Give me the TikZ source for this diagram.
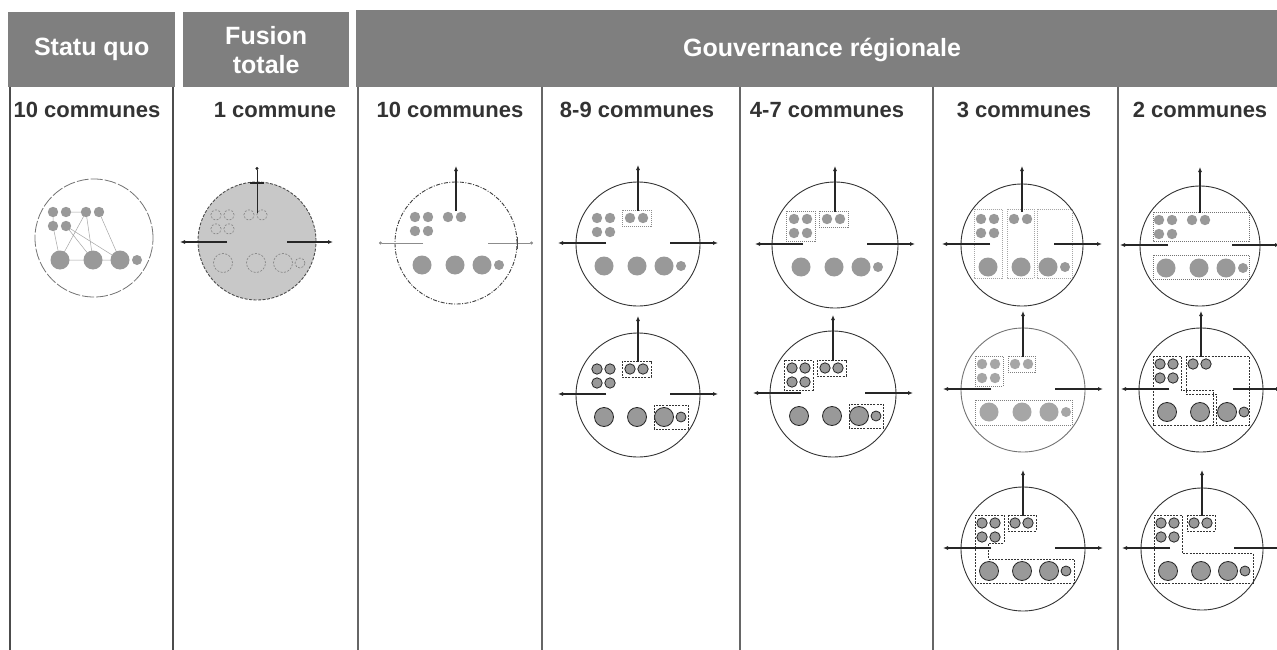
\documentclass[tikz,border=0pt]{standalone}
\usepackage{fontspec}
\setmainfont{Liberation Sans}
\usetikzlibrary{arrows.meta}
\definecolor{hdr}{HTML}{7F7F7F}
\definecolor{txt}{HTML}{333333}
\definecolor{sep}{HTML}{666666}
\definecolor{comm}{HTML}{999999}
\definecolor{fus}{HTML}{C8C8C8}
\newcommand\commset[1][]{%
  \foreach \dx/\dy/\rr in {-41/-26/5.2,-28/-26/5.2,-41/-12/5.2,-28/-12/5.2,-8/-26/5.2,5/-26/5.2,-34/22/9.5,-1/22/9.5,26/22/9.5,43/22/5}
    {\path[commune,#1] (\dx,\dy) circle (\rr pt);}%
}
\newcommand\arrset[1][]{%
  \draw[arr,#1] (0,-33) -- (0,-79);
  \draw[arr,#1] (-32,-1) -- (-80,-1);
  \draw[arr,#1] (32,-1) -- (80,-1);
}
\begin{document}
\begin{tikzpicture}[x=1pt,y=-1pt,
  hdrbox/.style={fill=hdr, text=white, inner sep=0pt, align=center,
    font=\bfseries\fontsize{25}{29}\selectfont},
  subhdr/.style={text=txt, inner sep=0pt, font=\bfseries\fontsize{22}{26}\selectfont},
  thickcol/.style={draw=black!70, line width=2pt},
  thincol/.style={draw=sep, line width=1.2pt},
  ring/.style={draw=black!80, line width=0.9pt},
  commune/.style={fill=comm},
  dk/.style={draw=black!85, line width=0.8pt},
  arr/.style={draw=black!85, line width=1.1pt, -{Latex[length=5pt,width=4pt]}},
  thinarr/.style={draw=black!45, line width=0.6pt, -{Circle[length=3pt]}},
  dbox/.style={draw=black!80, line width=0.7pt, dash pattern=on 2pt off 1.2pt},
  lbox/.style={draw=black!35, line width=0.7pt, dash pattern=on 1pt off 1pt},
  sqline/.style={draw=black!35, line width=0.5pt}]
\useasboundingbox (0,0) rectangle (1277,650);
\fill[white] (0,0) rectangle (1277,650);
% headers
\node[hdrbox, minimum width=167pt, minimum height=75pt, anchor=north west] (hsq) at (8,12) {Statu quo};
\node[hdrbox, minimum width=166pt, minimum height=75pt, anchor=north west] (hfu) at (183,12) {Fusion\\totale};
\node[hdrbox, minimum width=921pt, minimum height=77pt, anchor=north west] (hgo) at (356,10) {};
\node[text=white, font=\bfseries\fontsize{25}{29}\selectfont] (hgot) at (822,50) {Gouvernance régionale};
% column lines
\draw[thickcol] (10,87) -- (10,650);
\draw[thickcol] (173,87) -- (173,650);
\foreach \xx in {358,542,740,933,1118} \draw[thincol] (\xx,87) -- (\xx,650);
% sub headers
\node[subhdr] (s1) at (87,110) {10 communes};
\node[subhdr] (s2) at (275,110) {1 commune};
\node[subhdr] (s3) at (450,110) {10 communes};
\node[subhdr] (s4) at (637,110) {8-9 communes};
\node[subhdr] (s5) at (827,110) {4-7 communes};
\node[subhdr] (s6) at (1024,110) {3 communes};
\node[subhdr] (s7) at (1200,110) {2 communes};
% P1 statu quo
\begin{scope}[shift={(94,238)}]
  \draw[draw=black!55, line width=0.8pt, dash pattern=on 12pt off 2pt] (0,0) circle (59pt);
  \draw[sqline] (-28,-26) -- (-8,-26) (-41,-12) -- (-34,22) (-8,-26) -- (-34,22)
     (-8,-26) -- (-1,22) (-28,-12) -- (26,22) (-28,-12) -- (-1,22) (5,-26) -- (26,22)
     (-34,22) -- (26,22) (-41,-26) -- (-41,-12);
  \commset
\end{scope}
% P2 fusion
\begin{scope}[shift={(257,241)}]
  \draw[fill=fus, draw=black!70, line width=0.9pt, dash pattern=on 3pt off 1.5pt] (0,0) circle (59pt);
  \commset[fill=none, draw=black!50, line width=0.6pt, dash pattern=on 2pt off 1.5pt]
  \draw[black!85, line width=2pt] (-7,-58.5) -- (7,-58.5);
  \draw[draw=black!85, line width=0.7pt, -{Circle[length=3pt]}] (0,-28) -- (0,-74);
  \draw[arr, line width=1.3pt] (-30,1) -- (-77,1);
  \draw[arr, line width=1.3pt] (30,1) -- (76,1);
\end{scope}
% P3
\begin{scope}[shift={(456,243)}]
  \draw[draw=black!75, line width=0.9pt, dash pattern=on 4pt off 1.5pt on 1pt off 1.5pt] (0,0) circle (61pt);
  \commset
  \draw[arr] (0,-32) -- (0,-77);
  \draw[thinarr] (-33,0) -- (-77,0);
  \draw[thinarr] (32,0) -- (77,0);
  \draw[black!70, line width=0.8pt] (61,-6) -- (61,6);
\end{scope}
% P4a
\begin{scope}[shift={(638,244)}]
  \draw[ring] (0,0) circle (62pt);
  \commset
  \draw[lbox, draw=black!45] (-16,-34) rectangle (13,-18);
  \arrset
\end{scope}
% P4b
\begin{scope}[shift={(638,395)}]
  \draw[ring] (0,0) circle (62pt);
  \commset[dk]
  \draw[dbox] (-16,-34) rectangle (13,-18);
  \draw[dbox] (16,10) rectangle (50,34);
  \arrset
\end{scope}
% P5a
\begin{scope}[shift={(835,245)}]
  \draw[ring] (0,0) circle (63pt);
  \commset
  \draw[lbox, draw=black!50] (-49,-34) rectangle (-20,-4);
  \draw[lbox, draw=black!50] (-16,-34) rectangle (13,-18);
  \arrset
\end{scope}
% P5b
\begin{scope}[shift={(833,394)}]
  \draw[ring] (0,0) circle (63pt);
  \commset[dk]
  \draw[dbox] (-49,-34) rectangle (-20,-4);
  \draw[dbox] (-16,-34) rectangle (13,-18);
  \draw[dbox] (16,10) rectangle (50,34);
  \arrset
\end{scope}
% P6a
\begin{scope}[shift={(1022,245)}]
  \draw[ring] (0,0) circle (61pt);
  \draw[lbox] (-48,-36) rectangle (-20,33);
  \draw[lbox] (-15,-36) rectangle (12,33);
  \draw[lbox] (15,-36) rectangle (50,33);
  \commset
  \arrset
\end{scope}
% P6b
\begin{scope}[shift={(1023,390)}]
  \draw[ring, draw=black!55] (0,0) circle (62pt);
  \draw[lbox, draw=black!50] (-48,-34) rectangle (-20,-4);
  \draw[lbox, draw=black!50] (-15,-34) rectangle (12,-18);
  \draw[lbox, draw=black!50] (-48,10) rectangle (49,35);
  \commset[fill=black!35]
  \arrset
\end{scope}
% P6c
\begin{scope}[shift={(1023,549)}]
  \draw[ring] (0,0) circle (62pt);
  \draw[dbox] (-48,-34) -- (-19,-34) -- (-19,-6) -- (-35,-6) -- (-35,10) -- (51,10) -- (51,34) -- (-48,34) -- cycle;
  \draw[dbox] (-15,-34) rectangle (13,-18);
  \commset[dk]
  \arrset
\end{scope}
% P7a
\begin{scope}[shift={(1200,246)}]
  \draw[ring] (0,0) circle (60pt);
  \draw[lbox, draw=black!55] (-47,-34) rectangle (49,-5);
  \draw[lbox, draw=black!55] (-47,9) rectangle (49,33);
  \commset
  \arrset
\end{scope}
% P7b
\begin{scope}[shift={(1201,390)}]
  \draw[ring] (0,0) circle (62pt);
  \draw[dbox] (-48,-34) -- (-20,-34) -- (-20,0) -- (12,0) -- (12,35) -- (-48,35) -- cycle;
  \draw[dbox] (-15,-34) -- (48,-34) -- (48,35) -- (15,35) -- (15,4) -- (-15,4) -- cycle;
  \commset[dk]
  \arrset
\end{scope}
% P7c
\begin{scope}[shift={(1202,549)}]
  \draw[ring] (0,0) circle (61pt);
  \draw[dbox] (-48,-34) -- (-20,-34) -- (-20,4) -- (51,4) -- (51,34) -- (-48,34) -- cycle;
  \draw[dbox] (-15,-34) rectangle (13,-18);
  \commset[dk]
  \arrset
\end{scope}
\end{tikzpicture}
\end{document}
